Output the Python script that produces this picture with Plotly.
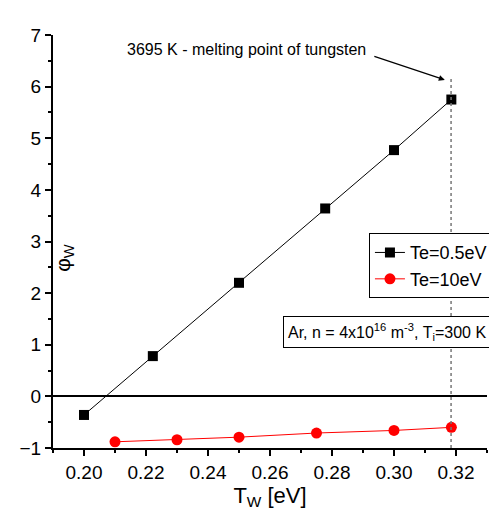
import plotly.graph_objects as go

# Data
tw_te05 = [0.20, 0.2222, 0.25, 0.2778, 0.30, 0.3185]
phi_te05 = [-0.36, 0.78, 2.20, 3.64, 4.77, 5.75]
tw_te10 = [0.21, 0.23, 0.25, 0.275, 0.30, 0.3185]
phi_te10 = [-0.88, -0.84, -0.79, -0.71, -0.66, -0.60]
x_ticks = [0.20, 0.22, 0.24, 0.26, 0.28, 0.30, 0.32]
x_ticklabels = ["0.20", "0.22", "0.24", "0.26", "0.28", "0.30", "0.32"]
y_ticks = [-1, 0, 1, 2, 3, 4, 5, 6, 7]
melt_K = 3695
melt_eV = melt_K / 11604.5

FONT = "Liberation Sans, Arial, sans-serif"

fig = go.Figure()
fig.add_trace(go.Scatter(x=tw_te05, y=phi_te05, mode="lines+markers", name="Te=0.5eV",
                         line=dict(color="black", width=1),
                         marker=dict(symbol="square", size=10, color="black")))
fig.add_trace(go.Scatter(x=tw_te10, y=phi_te10, mode="lines+markers", name="Te=10eV",
                         line=dict(color="red", width=1),
                         marker=dict(symbol="circle", size=11, color="red")))

# dotted melting-point line
fig.add_shape(type="line", xref="x", yref="y", x0=melt_eV, x1=melt_eV, y0=-1, y1=6.2,
              line=dict(color="#777777", width=1.5, dash="dot"))

fig.add_annotation(xref="paper", yref="paper", x=0.447, y=0.965,
                   xanchor="center", yanchor="middle",
                   text="3695 K - melting point of tungsten", showarrow=False,
                   font=dict(family=FONT, size=16, color="black"))
fig.add_annotation(xref="x", yref="y", x=0.3164, y=6.13, text="", showarrow=True,
                   ax=-72, ay=-24, arrowhead=2, arrowsize=1, arrowwidth=1.2, arrowcolor="black")

fig.add_annotation(xref="paper", yref="paper", x=0.770, y=0.281,
                   xanchor="center", yanchor="middle",
                   text="Ar, n = 4x10<sup>16</sup> m<sup>-3</sup>, T<sub>i</sub>=300 K",
                   showarrow=False, bordercolor="black", borderwidth=1, borderpad=4,
                   bgcolor="white", font=dict(family=FONT, size=16, color="black"))

fig.add_annotation(xref="paper", yref="paper", x=0.025, y=0.46, text="φ<sub>W</sub>",
                   xanchor="center", yanchor="middle",
                   textangle=-90, showarrow=False,
                   font=dict(family=FONT, size=21, color="black"))

fig.update_layout(
    width=497, height=516,
    margin=dict(l=40, r=14, t=27, b=76),
    paper_bgcolor="white", plot_bgcolor="white",
    font=dict(family=FONT, size=19, color="black"),
    showlegend=True,
    legend=dict(x=0.728, y=0.52, xanchor="left", yanchor="top",
                bordercolor="black", borderwidth=1, bgcolor="white",
                font=dict(family=FONT, size=18, color="black")),
    xaxis=dict(range=[0.19, 0.33], tickvals=x_ticks, ticktext=x_ticklabels,
               showline=True, linecolor="black", linewidth=2, mirror=False,
               ticks="outside", ticklen=6, tickwidth=2, tickcolor="black",
               minor=dict(ticks="outside", ticklen=3, tickwidth=1.5, dtick=0.01, tick0=0.19, tickcolor="black"),
               showgrid=False, zeroline=False,
               title=dict(text="T<sub>W</sub> [eV]", standoff=4,
                          font=dict(family=FONT, size=22, color="black"))),
    yaxis=dict(range=[-1, 7], tickvals=y_ticks,
               showline=True, linecolor="black", linewidth=2, mirror=False,
               ticks="outside", ticklen=6, tickwidth=2, tickcolor="black",
               minor=dict(ticks="outside", ticklen=3, tickwidth=1.5, dtick=0.5, tick0=-1, tickcolor="black"),
               showgrid=False, zeroline=True, zerolinecolor="black", zerolinewidth=2),
)

fig.write_html("out.html")
